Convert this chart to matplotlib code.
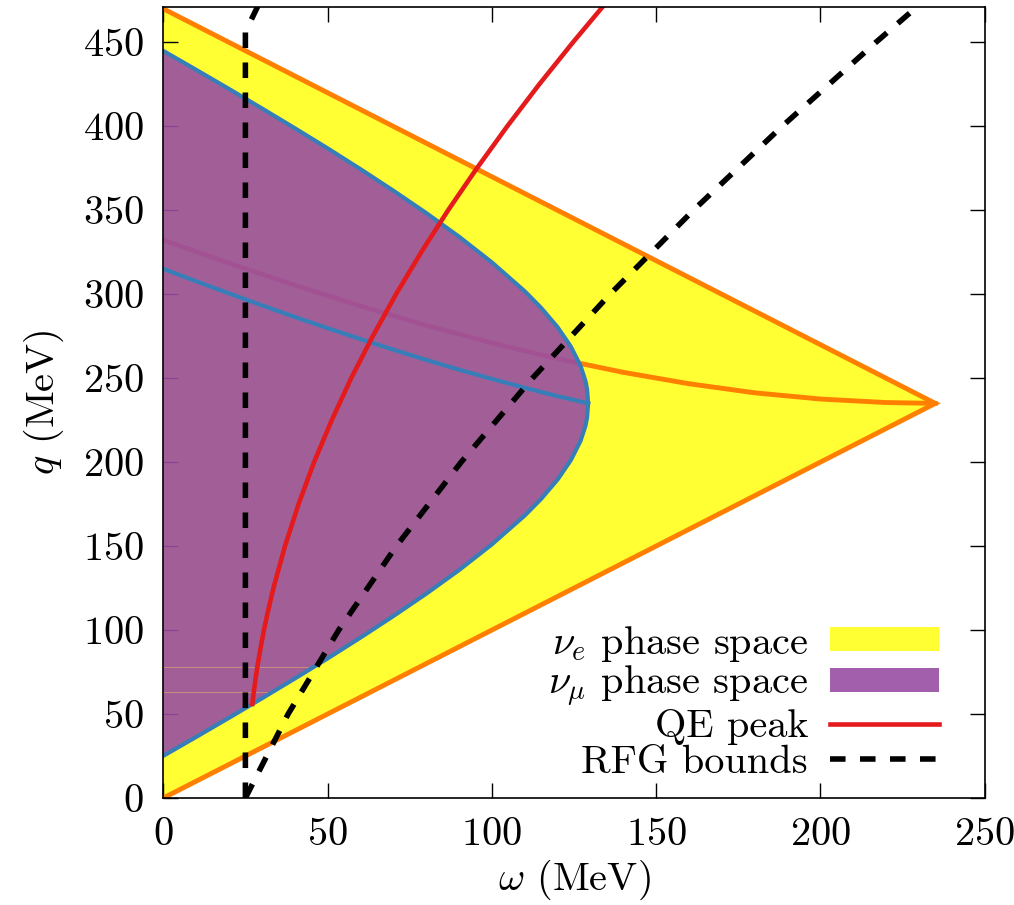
import matplotlib
matplotlib.use("Agg")
import matplotlib.pyplot as plt
from matplotlib.patches import Patch
from matplotlib.lines import Line2D

plt.rcParams['font.family'] = ['cmr10', 'DejaVu Serif']
plt.rcParams['mathtext.fontset'] = 'cm'
plt.rcParams['axes.formatter.use_mathtext'] = True

# ---- data (MeV) ----
# nu_e kinematic triangle (vertices)
nue_omega = [0, 235, 0]
nue_q = [0, 235, 470]

# nu_e 90-degree curve
nue90_omega = [0, 20, 40, 60, 80, 100, 120, 140, 160, 180, 200, 220, 235]
nue90_q = [332.3, 318.5, 305.4, 293.0, 281.5, 271.0, 261.6, 253.5, 246.7, 241.3, 237.6, 235.5, 235]

# nu_mu phase space boundary
numu_omega = [0, 10, 20, 30, 40, 50, 60, 70, 80, 90, 100, 110, 115, 120, 124, 127, 128.5, 129, 129.34]
numu_q_low = [25.1, 36.35, 47.75, 59.33, 71.1, 83.1, 95.5, 108.3, 121.6, 135.7, 151.0, 168.2,
              178.1, 189.6, 201.0, 212.6, 221.6, 226.5, 235]
numu_q_high = [444.9, 433.65, 422.25, 410.67, 398.9, 386.9, 374.5, 361.7, 348.4, 334.3, 319.0, 301.8,
               291.9, 280.4, 269.0, 257.4, 248.4, 243.5, 235]
numu90_q = [315.1, 307.7, 300.5, 293.4, 286.5, 279.8, 273.3, 267.0, 260.9, 255.1, 249.6, 244.3,
            241.8, 239.3, 237.5, 236.1, 235.4, 235.2, 235]

# QE peak
qe_q = [56, 60, 65, 70, 75, 80, 90, 100, 110, 125, 150, 175, 200, 225, 250, 275, 300,
        325, 350, 375, 400, 425, 450, 472]
qe_omega = [27.1, 27.36, 27.68, 28.03, 28.4, 28.8, 29.67, 30.65, 31.73, 33.53, 37.05, 41.18,
            45.9, 51.28, 57.2, 63.76, 70.85, 78.51, 86.7, 95.45, 104.7, 114.45, 124.7, 134.1]

# RFG bounds
rfg_lo_q = [0, 456, 458, 460, 462.5, 465, 468, 472]
rfg_lo_omega = [25, 25, 25.48, 25.96, 26.56, 27.17, 27.91, 28.9]
rfg_hi_q = [0, 50, 100, 150, 200, 250, 300, 350, 400, 450, 472]
rfg_hi_omega = [25, 38.0, 53.4, 70.95, 90.66, 112.38, 135.99, 161.36, 188.37, 216.91, 229.92]

# faint rendering seams in the nu_mu fill
seam_q = [78.3, 63.4]
seam_omega_end = [45.8, 33.0]

xticks = [0, 50, 100, 150, 200, 250]
yticks = [0, 50, 100, 150, 200, 250, 300, 350, 400, 450]

YELLOW = '#ffff33'
ORANGE = '#ff7f00'
PURPLE = '#984ea3'
BLUE = '#377eb8'
RED = '#e41a1c'
FS = 29

fig = plt.figure(figsize=(10.14, 9.05), dpi=100)
ax = fig.add_axes([0.1610, 0.1182, 0.8100, 0.8740])

# nu_e region
ax.fill(nue_omega, nue_q, color=YELLOW, lw=0, zorder=1)
ax.plot(nue90_omega, nue90_q, color=ORANGE, lw=3.5, zorder=2)
ax.plot(nue_omega, nue_q, color=ORANGE, lw=3.5, zorder=2, solid_joinstyle='miter')

# nu_mu region
poly_w = list(numu_omega) + list(numu_omega[::-1])
poly_q = list(numu_q_low) + list(numu_q_high[::-1])
ax.fill(poly_w, poly_q, color=PURPLE, alpha=0.9, lw=0, zorder=3)
for sq, se in zip(seam_q, seam_omega_end):
    ax.plot([0, se], [sq, sq], color='#c8907a', lw=0.7, zorder=3.5)
ax.plot(poly_w, poly_q, color=BLUE, lw=3.0, zorder=4)
ax.plot(numu_omega, numu90_q, color=BLUE, lw=3.0, zorder=4)

# QE peak
ax.plot(qe_omega, qe_q, color=RED, lw=3.3, zorder=5)

# RFG bounds
ax.plot(rfg_lo_omega, rfg_lo_q, color='black', lw=4, dashes=(2.8, 2.6), zorder=6)
ax.plot(rfg_hi_omega, rfg_hi_q, color='black', lw=4, dashes=(2.8, 2.6), zorder=6)

ax.set_xlim(0, 250)
ax.set_ylim(0, 471)
ax.set_xticks(xticks)
ax.set_yticks(yticks)
ax.tick_params(direction='in', length=11, width=1, top=True, right=True,
               labelsize=FS, pad=14)
for s in ax.spines.values():
    s.set_linewidth(1.2)
    s.set_zorder(10)

ax.set_xlabel(r'$\omega$ (MeV)', fontsize=FS, labelpad=3)
ax.set_ylabel(r'$q$ (MeV)', fontsize=FS, labelpad=12)

handles = [
    Patch(facecolor=YELLOW, edgecolor='none'),
    Patch(facecolor=PURPLE, alpha=0.9, edgecolor='none'),
    Line2D([], [], color=RED, lw=3.3),
    Line2D([], [], color='black', lw=4, dashes=(2.8, 2.6)),
]
labels = [r'$\nu_e$ phase space', r'$\nu_\mu$ phase space', 'QE peak', 'RFG bounds']
leg = ax.legend(handles, labels, loc='lower right', bbox_to_anchor=(0.9445, 0.022),
                markerfirst=False, frameon=False, fontsize=FS, handlelength=2.7,
                handleheight=0.55, handletextpad=0.55, labelspacing=0.0,
                borderpad=0, borderaxespad=0)
for t in leg.get_texts():
    t.set_ha('right')
leg.set_zorder(20)

fig.savefig('out.png', dpi=100)
